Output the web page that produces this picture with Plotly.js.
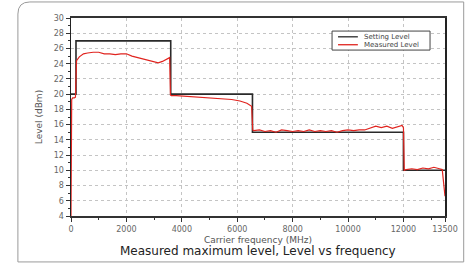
<!DOCTYPE html>
<html>
<head>
<meta charset="utf-8">
<script src="https://cdn.plot.ly/plotly-3.0.1.min.js"></script>
<style>html,body{margin:0;padding:0;background:#fff;}#chart{width:466px;height:263px;}</style>
</head>
<body>
<div id="chart"></div>
<script>
const settingFreq = [0, 180, 180, 3600, 3600, 6550, 6550, 12000, 12000, 13500];
const settingLevel = [20, 20, 27, 27, 20, 20, 15, 15, 10, 10];

const measuredFreq = [0, 25, 60, 120, 160, 175, 200, 300, 450, 600, 800, 1000, 1200, 1400, 1600, 1800, 2000, 2200, 2400, 2600, 2800, 3000, 3150, 3300, 3450, 3560, 3590, 3620, 3800, 4200, 4600, 5000, 5400, 5800, 6100, 6350, 6520, 6560, 6600, 6800, 7000, 7200, 7400, 7600, 7800, 8000, 8200, 8400, 8600, 8800, 9000, 9200, 9400, 9600, 9800, 10000, 10200, 10400, 10600, 10800, 11000, 11200, 11400, 11600, 11800, 11950, 12000, 12030, 12100, 12300, 12500, 12700, 12900, 13100, 13300, 13400, 13500];
const measuredLevel = [4, 19.3, 19.5, 19.5, 19.6, 23.5, 24.4, 24.9, 25.3, 25.4, 25.5, 25.5, 25.3, 25.3, 25.2, 25.3, 25.3, 25.0, 24.8, 24.6, 24.5, 24.3, 24.1, 24.3, 24.6, 24.8, 19.9, 19.8, 19.8, 19.7, 19.6, 19.5, 19.4, 19.3, 19.1, 18.8, 18.4, 15.3, 15.2, 15.3, 15.1, 15.2, 15.0, 15.3, 15.2, 15.1, 15.2, 15.1, 15.3, 15.1, 15.2, 15.1, 15.2, 15.0, 15.2, 15.3, 15.2, 15.3, 15.3, 15.5, 15.8, 15.6, 15.8, 15.5, 15.7, 15.9, 15.6, 10.0, 10.1, 10.2, 10.1, 10.3, 10.2, 10.4, 10.2, 10.1, 6.6];

const xTickVals = [0, 2000, 4000, 6000, 8000, 10000, 12000, 13500];
const xTickText = ['0', '2000', '4000', '6000', '8000', '10000', '12000', '13500'];
const seriesNames = ['Setting Level', 'Measured Level'];
const seriesColors = ['#2a2a2a', '#e0241f'];

const traces = [
  {x: settingFreq, y: settingLevel, type: 'scatter', mode: 'lines', name: seriesNames[0],
   line: {color: seriesColors[0], width: 1.6}},
  {x: measuredFreq, y: measuredLevel, type: 'scatter', mode: 'lines', name: seriesNames[1],
   line: {color: seriesColors[1], width: 1.2}}
];

// compact legend box (paper coordinates)
const lgX0 = 0.698, lgX1 = 0.960, lgY0 = 0.838, lgY1 = 0.934;
const lgRows = [0.905, 0.865];
const legendShapes = [
  {type: 'rect', xref: 'paper', yref: 'paper', x0: lgX0, x1: lgX1, y0: lgY0, y1: lgY1,
   line: {color: '#444', width: 1}, fillcolor: '#fff'}
];
const legendNotes = [];
lgRows.forEach((ry, i) => {
  legendShapes.push({type: 'line', xref: 'paper', yref: 'paper', x0: 0.714, x1: 0.767, y0: ry, y1: ry,
    line: {color: seriesColors[i], width: 1.3}});
  legendNotes.push({text: seriesNames[i], xref: 'paper', yref: 'paper', x: 0.778, y: ry,
    xanchor: 'left', yanchor: 'middle', showarrow: false,
    font: {family: 'DejaVu Sans', size: 7, color: '#444'}});
});

const tickFont = {family: 'DejaVu Sans', size: 8, color: '#666'};
const layout = {
  width: 466, height: 263,
  margin: {l: 71, r: 21, t: 18, b: 47},
  paper_bgcolor: '#fff', plot_bgcolor: '#fff',
  showlegend: false,
  xaxis: {range: [0, 13500], tickmode: 'array', tickvals: xTickVals, ticktext: xTickText,
    ticks: 'outside', ticklen: 4, tickcolor: '#333', tickfont: tickFont,
    showline: true, linecolor: '#333', linewidth: 2, mirror: true,
    showgrid: true, gridcolor: '#c4c4c4', griddash: 'dot', gridwidth: 1, zeroline: false,
    minor: {tickmode: 'linear', tick0: 0, dtick: 1000, ticks: 'outside', ticklen: 2, tickcolor: '#333', showgrid: false},
    title: {text: 'Carrier frequency (MHz)', font: {family: 'DejaVu Sans', size: 9, color: '#555'}, standoff: 4}},
  yaxis: {range: [4, 30], tickmode: 'linear', tick0: 4, dtick: 2,
    ticks: 'outside', ticklen: 4, tickcolor: '#333', tickfont: tickFont,
    showline: true, linecolor: '#222', linewidth: 1.5, mirror: true,
    showgrid: true, gridcolor: '#c4c4c4', griddash: 'dot', gridwidth: 1, zeroline: false,
    minor: {tickmode: 'linear', tick0: 4, dtick: 1, ticks: 'outside', ticklen: 2, tickcolor: '#333', showgrid: false},
    title: {text: 'Level (dBm)', font: {family: 'DejaVu Sans', size: 9, color: '#555'}, standoff: 9}},
  annotations: [
    {text: 'Measured maximum level, Level vs frequency', xref: 'paper', yref: 'paper',
     x: 0.5, y: -0.178, xanchor: 'center', yanchor: 'middle', showarrow: false,
     font: {family: 'DejaVu Sans', size: 12, color: '#222'}}
  ].concat(legendNotes),
  shapes: [
    {type: 'path', xref: 'paper', yref: 'paper', layer: 'below',
     path: 'M -0.142,1.02 Q -0.142,1.081 -0.11,1.081 L 1.05,1.081 L 1.05,-0.232 L -0.142,-0.232 Z',
     line: {color: '#9a9a9a', width: 1}, fillcolor: 'rgba(0,0,0,0)'}
  ].concat(legendShapes)
};

Plotly.newPlot('chart', traces, layout, {displayModeBar: false, staticPlot: true});
</script>
</body>
</html>
